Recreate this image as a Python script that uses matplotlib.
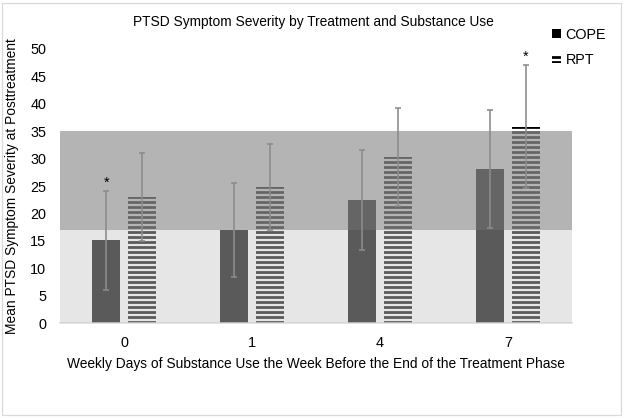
import matplotlib
matplotlib.use("Agg")
import matplotlib.pyplot as plt
from matplotlib.patches import Patch, Rectangle
import numpy as np

plt.rcParams['font.family'] = ['Liberation Sans', 'DejaVu Sans']
plt.rcParams['hatch.linewidth'] = 2.2

categories = ["0", "1", "4", "7"]
cope_mean = [15.1, 17.0, 22.4, 28.1]
cope_sd = [9.0, 8.6, 9.1, 10.8]
rpt_mean = [23.0, 24.8, 30.3, 35.8]
rpt_sd = [8.1, 7.9, 8.9, 11.2]
cope_sig = [True, False, False, False]
rpt_sig = [False, False, False, True]
yticks = list(range(0, 55, 5))

DPI = 90
FS = 11
fig = plt.figure(figsize=(625 / DPI, 418 / DPI), dpi=DPI)
ax = fig.add_axes([60 / 625, 95 / 418, 512 / 625, 274 / 418])

x = np.arange(len(categories))
w = 0.225
off = 0.14

ax.bar(x - off, cope_mean, w, color='black', linewidth=0, zorder=2)
ax.bar(x + off, rpt_mean, w, color='white', edgecolor='black', hatch='---', linewidth=0, zorder=2)

# translucent bands drawn over the bars
ax.axhspan(0, 17, color=(200/255, 200/255, 200/255), alpha=0.45, linewidth=0, zorder=3)
ax.axhspan(17, 35, color=(147/255, 147/255, 147/255), alpha=0.694, linewidth=0, zorder=3)

ecol = '#8c8c8c'
ax.errorbar(x - off, cope_mean, yerr=cope_sd, fmt='none', ecolor=ecol, elinewidth=1.3,
            capsize=2.8, capthick=1.3, zorder=4)
ax.errorbar(x + off, rpt_mean, yerr=rpt_sd, fmt='none', ecolor=ecol, elinewidth=1.3,
            capsize=2.8, capthick=1.3, zorder=4)

for i in range(len(categories)):
    if cope_sig[i]:
        ax.text(x[i] - off, cope_mean[i] + cope_sd[i] + 0.3, '*', ha='center', va='bottom',
                fontsize=11.5, color='black', zorder=5)
    if rpt_sig[i]:
        ax.text(x[i] + off, rpt_mean[i] + rpt_sd[i] + 0.3, '*', ha='center', va='bottom',
                fontsize=11.5, color='black', zorder=5)

ax.set_xlim(-0.5, len(categories) - 0.5)
ax.set_ylim(0, 50)
ax.set_yticks(yticks)
ax.set_xticks(x)
ax.set_xticklabels(categories)
ax.tick_params(axis='both', length=0, labelsize=11.5, colors='black')
ax.tick_params(axis='y', pad=11)
ax.tick_params(axis='x', pad=10)
for s in ['left', 'right', 'top']:
    ax.spines[s].set_visible(False)
ax.spines['bottom'].set_color('#d9d9d9')
ax.spines['bottom'].set_linewidth(1.2)
ax.set_facecolor('white')

ax.set_xlabel('Weekly Days of Substance Use the Week Before the End of the Treatment Phase',
              fontsize=FS, labelpad=6)
ax.set_ylabel('Mean PTSD Symptom Severity at Posttreatment', fontsize=FS, labelpad=9)
fig.text(313 / 625, 1 - 22 / 418, 'PTSD Symptom Severity by Treatment and Substance Use',
         ha='center', va='center', fontsize=FS)

handles = [Patch(facecolor='black', edgecolor='black', linewidth=0),
           Patch(facecolor='white', edgecolor='black', hatch='---', linewidth=0)]
fig.legend(handles, ['COPE', 'RPT'], loc='upper left', bbox_to_anchor=(539 / 625, 1 - 15 / 418),
           frameon=False, fontsize=11.5, handlelength=0.6, handleheight=0.6,
           handletextpad=0.35, labelspacing=0.75)

fig.add_artist(Rectangle((2 / 625, 3 / 418), 619 / 625, 412 / 418, transform=fig.transFigure,
                         fill=False, edgecolor='#d9d9d9', linewidth=1))

fig.savefig('out.png', dpi=DPI)
